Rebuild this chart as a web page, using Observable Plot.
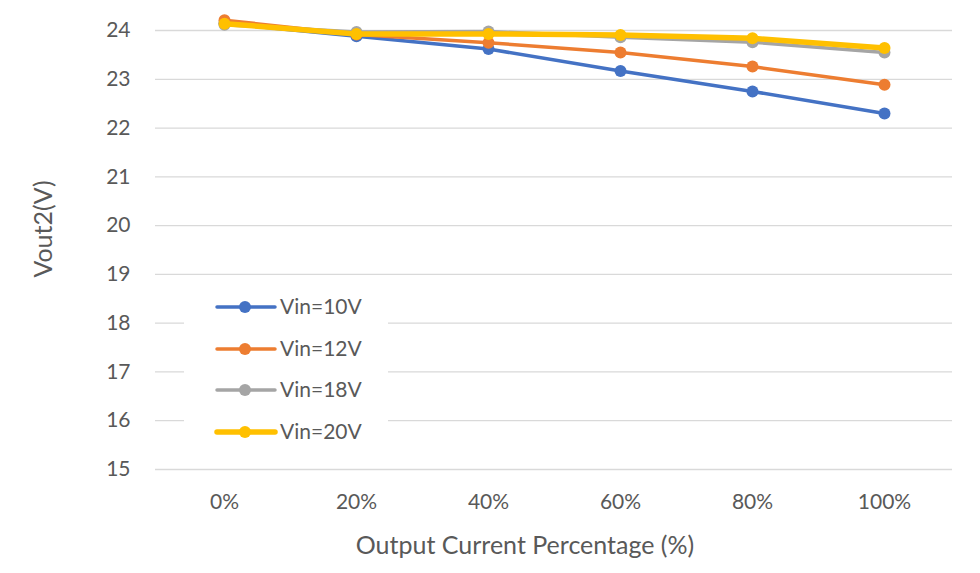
<!DOCTYPE html>
<html>
<head>
<meta charset="utf-8">
<script src="https://cdn.jsdelivr.net/npm/d3@7"></script>
<script src="https://cdn.jsdelivr.net/npm/@observablehq/plot@0.6"></script>
<style>
  html, body { margin: 0; padding: 0; background: #fff; }
  #wrap { position: relative; width: 980px; height: 573px; font-family: Lato, "Open Sans", sans-serif; }
  #legend { position: absolute; left: 184px; top: 286px; width: 204px; height: 164px; background: #fff; }
</style>
</head>
<body>
<div id="wrap"><div id="chart"></div><div id="legend"></div></div>
<script>
const categories = ["0%", "20%", "40%", "60%", "80%", "100%"];
const seriesNames = ["Vin=10V", "Vin=12V", "Vin=18V", "Vin=20V"];
const vin10 = [24.15, 23.88, 23.62, 23.17, 22.75, 22.30];
const vin12 = [24.21, 23.92, 23.75, 23.55, 23.26, 22.89];
const vin18 = [24.12, 23.97, 23.98, 23.86, 23.76, 23.55];
const vin20 = [24.14, 23.93, 23.93, 23.91, 23.84, 23.64];
const yTicks = [15, 16, 17, 18, 19, 20, 21, 22, 23, 24];
const colors = ["#4472C4", "#ED7D31", "#A5A5A5", "#FFC000"];
const lineWidths = [3.5, 3.5, 3.5, 5.5];

const seriesValues = [vin10, vin12, vin18, vin20];
const rows = seriesValues.map((vals, s) =>
  vals.map((v, i) => ({series: seriesNames[s], cat: categories[i], value: v})));

const seriesMarks = rows.flatMap((data, s) => [
  Plot.line(data, {x: "cat", y: "value", stroke: colors[s], strokeWidth: lineWidths[s], clip: false}),
  Plot.dot(data, {x: "cat", y: "value", fill: colors[s], r: 6, clip: false})
]);

const chart = Plot.plot({
  width: 980,
  height: 573,
  marginLeft: 155,
  marginRight: 28,
  marginTop: 30,
  marginBottom: 104,
  style: {fontFamily: "Lato, 'Open Sans', sans-serif", fontSize: "21px", color: "#595959", background: "#fff"},
  x: {type: "point", domain: categories, padding: 0.5, tickSize: 0, tickPadding: 25, label: null},
  y: {domain: [15, 24], ticks: yTicks, tickSize: 0, tickPadding: 25, label: null, tickFormat: d => String(d)},
  marks: [
    Plot.ruleY(yTicks, {stroke: "#D9D9D9", strokeWidth: 1.3}),
    ...seriesMarks,
    Plot.text(["Vout2(V)"], {frameAnchor: "left", textAnchor: "middle", lineAnchor: "middle", rotate: -90, dx: -112, dy: -21, fontSize: 25, fill: "#595959"}),
    Plot.text(["Output Current Percentage (%)"], {frameAnchor: "bottom", textAnchor: "middle", lineAnchor: "middle", dx: -29, dy: 76, fontSize: 25, fill: "#595959"})
  ]
});
document.getElementById("chart").appendChild(chart);

// legend
const lg = d3.select("#legend").append("svg").attr("width", 204).attr("height", 164);
const rowY = [21, 63, 104, 146];
seriesNames.forEach((name, s) => {
  const g = lg.append("g").attr("transform", `translate(0,${rowY[s]})`);
  g.append("line").attr("x1", 33).attr("x2", 91).attr("y1", 0).attr("y2", 0)
    .attr("stroke", colors[s]).attr("stroke-width", lineWidths[s]).attr("stroke-linecap", "round");
  g.append("circle").attr("cx", 61).attr("cy", 0).attr("r", 6).attr("fill", colors[s]);
  g.append("text").attr("x", 96).attr("y", 0).attr("dy", "0.35em")
    .attr("fill", "#595959").style("font-size", "21px").style("font-family", "Lato, 'Open Sans', sans-serif")
    .text(name);
});
</script>
</body>
</html>
